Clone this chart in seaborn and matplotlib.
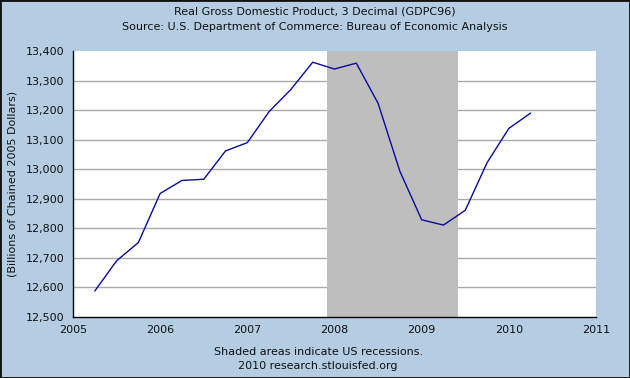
import pandas as pd
import numpy as np
import matplotlib
matplotlib.use('Agg')
import matplotlib.pyplot as plt
import seaborn as sns
from matplotlib.patches import Rectangle

# quarterly real GDP, billions of chained 2005 dollars
quarters = [2005.25, 2005.5, 2005.75, 2006.0, 2006.25, 2006.5, 2006.75,
            2007.0, 2007.25, 2007.5, 2007.75, 2008.0, 2008.25, 2008.5,
            2008.75, 2009.0, 2009.25, 2009.5, 2009.75, 2010.0, 2010.25]
gdp = [12588, 12690, 12752, 12918, 12962, 12966, 13062,
       13090, 13195, 13270, 13362, 13339, 13359, 13223,
       12993, 12829, 12811, 12861, 13022, 13138, 13190]
recession = [2007.917, 2009.417]
y_ticks = [12500, 12600, 12700, 12800, 12900, 13000, 13100, 13200, 13300, 13400]
x_ticks = [2005, 2006, 2007, 2008, 2009, 2010, 2011]

df = pd.DataFrame({'date': quarters, 'gdp': gdp})

bg = '#B4CDE3'
sns.set_style('white')
plt.rcParams['font.family'] = ['DejaVu Sans']
plt.rcParams['font.size'] = 8

fig = plt.figure(figsize=(6.3, 3.78), dpi=100, facecolor=bg)
ax = fig.add_axes([73/630, 1-317/378, 523/630, 266/378])
ax.set_facecolor('white')

ax.axvspan(recession[0], recession[1], color='#BEBEBE', zorder=1, lw=0)
sns.lineplot(data=df, x='date', y='gdp', ax=ax, color='#0A0AA0', lw=1, zorder=3)

ax.set_xlim(2005, 2011)
ax.set_ylim(12500, 13400)
ax.set_xticks(x_ticks)
ax.set_xticklabels([str(x) for x in x_ticks])
ax.set_yticks(y_ticks)
ax.set_yticklabels([f'{v:,}' for v in y_ticks])
ax.tick_params(direction='in', length=6, width=1, color='black', labelcolor='#111111',
               labelsize=8, pad=6)

ax.set_axisbelow(True)
ax.yaxis.grid(True, color='#AAAAAA', lw=1)
ax.get_ygridlines()[-1].set_visible(False)
ax.get_ygridlines()[0].set_visible(False)

for s in ['top', 'right']:
    ax.spines[s].set_visible(False)
for s in ['left', 'bottom']:
    ax.spines[s].set_color('black')
    ax.spines[s].set_linewidth(1)

ax.set_xlabel('')
ax.set_ylabel('')
fig.text(13/630, 1-184/378, '(Billions of Chained 2005 Dollars)', rotation=90,
         ha='center', va='center', fontsize=8, color='#111111')

fig.text(0.5, 1-12/378, 'Real Gross Domestic Product, 3 Decimal (GDPC96)',
         ha='center', va='center', fontsize=8, color='#111111')
fig.text(0.5, 1-27/378, 'Source: U.S. Department of Commerce: Bureau of Economic Analysis',
         ha='center', va='center', fontsize=8, color='#111111')
fig.text(0.505, 1-352/378, 'Shaded areas indicate US recessions.',
         ha='center', va='center', fontsize=8, color='#111111')
fig.text(0.505, 1-366/378, '2010 research.stlouisfed.org',
         ha='center', va='center', fontsize=8, color='#111111')

fig.patches.append(Rectangle((0, 0), 1, 1, transform=fig.transFigure, fill=False,
                             edgecolor='#111111', lw=2, zorder=10))

fig.savefig('out.png', dpi=100, facecolor=bg)
